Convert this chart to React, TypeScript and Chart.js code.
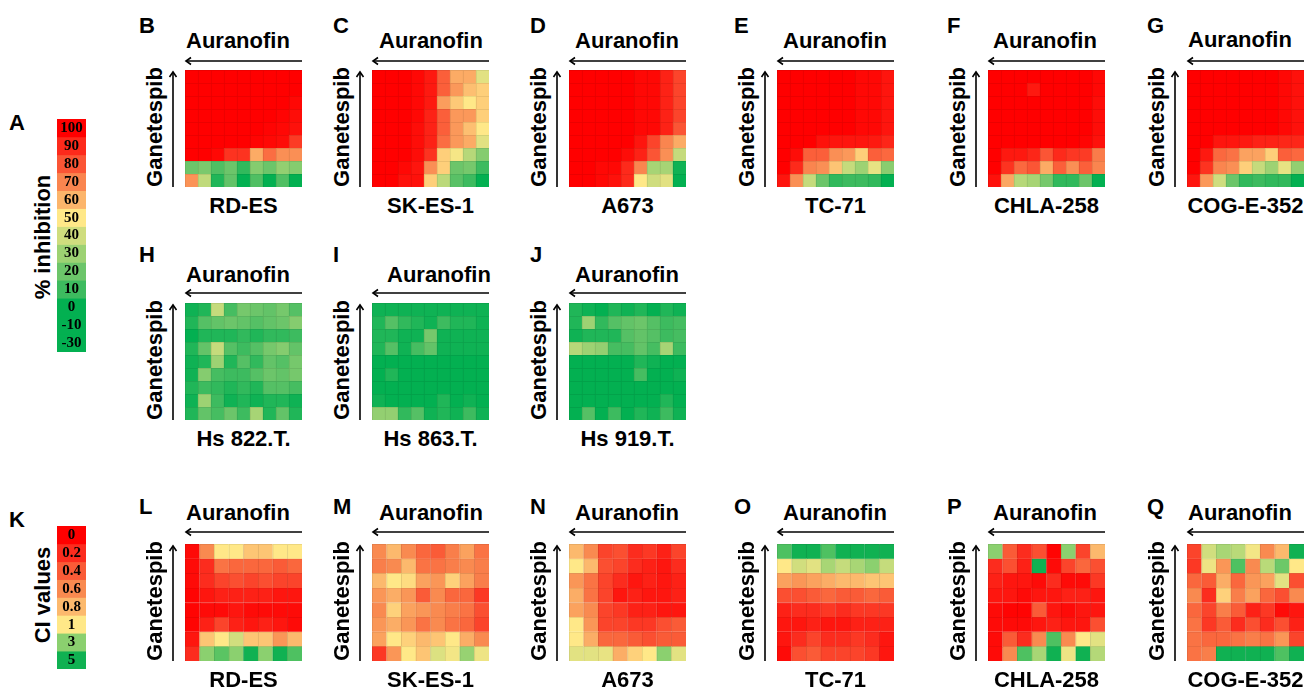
import React, { useEffect, useRef } from 'react';
import { Chart, registerables } from 'chart.js';
Chart.register(...registerables);

// ---------- DATA (% inhibition, rows top -> bottom, Auranofin columns left -> right) ----------
const rdesInh = [
  [100, 100, 100, 100, 100, 100, 100, 100, 100],
  [100, 100, 100, 100, 100, 100, 100, 100, 100],
  [100, 100, 100, 100, 100, 100, 100, 100, 98],
  [100, 100, 100, 100, 100, 100, 100, 99, 97],
  [100, 100, 100, 100, 100, 100, 99, 98, 96],
  [100, 100, 100, 100, 100, 99, 98, 97, 86],
  [100, 100, 98, 88, 88, 62, 75, 68, 68],
  [20, 23, 14, 20, 8, 25, 20, 28, 25],
  [67, 37, 5, 18, 0, 14, 0, 14, 0],
];
const skes1Inh = [
  [100, 100, 100, 98, 94, 78, 62, 62, 44],
  [100, 100, 100, 98, 94, 78, 66, 58, 55],
  [100, 100, 100, 98, 94, 65, 56, 50, 55],
  [100, 100, 100, 98, 92, 78, 66, 66, 55],
  [100, 100, 100, 97, 92, 78, 66, 58, 50],
  [100, 100, 100, 97, 92, 75, 66, 62, 44],
  [100, 100, 100, 97, 88, 55, 48, 35, 25],
  [100, 100, 98, 95, 68, 55, 20, 22, 10],
  [100, 100, 96, 96, 55, 36, 16, 10, 0],
];
const a673Inh = [
  [100, 100, 100, 100, 100, 98, 98, 92, 84],
  [100, 100, 100, 100, 100, 98, 98, 92, 84],
  [100, 100, 100, 100, 100, 98, 98, 92, 84],
  [100, 100, 100, 100, 100, 98, 98, 92, 84],
  [100, 100, 100, 100, 100, 98, 98, 92, 80],
  [100, 100, 100, 100, 100, 95, 84, 70, 62],
  [100, 100, 100, 100, 97, 92, 80, 68, 38],
  [100, 100, 98, 98, 90, 70, 32, 32, 2],
  [100, 100, 98, 96, 90, 50, 40, 44, 0],
];
const tc71Inh = [
  [100, 100, 100, 100, 100, 100, 98, 98, 95],
  [100, 100, 100, 100, 100, 100, 98, 98, 95],
  [100, 100, 100, 100, 100, 100, 98, 98, 95],
  [100, 100, 100, 100, 100, 100, 98, 98, 95],
  [100, 100, 100, 100, 100, 100, 98, 98, 95],
  [100, 100, 100, 96, 95, 95, 95, 94, 91],
  [100, 97, 78, 78, 68, 66, 55, 78, 76],
  [100, 90, 70, 68, 57, 38, 30, 45, 26],
  [95, 68, 38, 20, 8, 10, 10, 8, 0],
];
const chla258Inh = [
  [100, 100, 100, 100, 100, 100, 100, 100, 98],
  [100, 100, 100, 94, 100, 100, 100, 100, 98],
  [100, 100, 100, 100, 100, 100, 100, 100, 97],
  [100, 100, 100, 100, 100, 100, 100, 100, 97],
  [100, 100, 100, 100, 100, 100, 100, 100, 97],
  [100, 100, 100, 100, 100, 100, 100, 99, 96],
  [100, 94, 94, 91, 80, 90, 87, 86, 72],
  [100, 88, 76, 80, 62, 78, 68, 78, 70],
  [96, 63, 35, 32, 22, 8, 8, 20, 0],
];
const coge352Inh = [
  [100, 100, 100, 100, 100, 100, 100, 98, 96],
  [100, 100, 100, 100, 100, 100, 100, 98, 96],
  [100, 100, 100, 100, 100, 100, 100, 98, 96],
  [100, 100, 100, 100, 100, 100, 100, 98, 96],
  [100, 100, 100, 100, 100, 100, 100, 98, 96],
  [100, 100, 95, 95, 94, 92, 92, 91, 91],
  [100, 94, 76, 74, 64, 64, 55, 78, 76],
  [100, 88, 70, 68, 55, 38, 30, 45, 28],
  [95, 66, 40, 20, 8, 10, 8, 8, 0],
];
const hs822Inh = [
  [2, 5, 38, 12, 22, 20, 18, 22, 15],
  [5, 15, 18, 20, 18, 15, 18, 20, 25],
  [0, 5, 5, 5, 8, 5, 8, 8, 10],
  [5, 18, 38, 15, 10, 15, 22, 25, 18],
  [2, 5, 30, 5, 15, 8, 18, 15, 22],
  [2, 25, 12, 10, 10, 15, 20, 18, 22],
  [5, 10, 8, 5, 8, 5, 15, 15, 12],
  [2, 30, 10, 2, 5, 2, 5, 5, 2],
  [5, 18, 12, 20, 10, 32, 5, 18, 5],
];
const hs863Inh = [
  [2, 2, 2, 2, 2, 2, 2, 2, 2],
  [5, 15, 8, 5, 2, 10, 5, 5, 2],
  [5, 5, 2, 2, 22, 2, 2, 2, 2],
  [5, 15, 2, 12, 18, 2, 2, 2, 2],
  [0, 0, 0, 0, 0, 0, 0, 0, 0],
  [0, 5, 0, 0, 0, 0, 0, 0, 0],
  [0, 0, 0, 0, 0, 0, 0, 0, 0],
  [2, 0, 0, 0, 0, 5, 0, 2, 0],
  [28, 28, 8, 15, 2, 5, 2, 10, 2],
];
const hs919Inh = [
  [5, 2, 0, 5, 2, 5, 0, 5, 2],
  [5, 30, 8, 15, 18, 20, 15, 10, 12],
  [2, 5, 5, 5, 15, 18, 15, 10, 12],
  [35, 30, 28, 12, 12, 18, 12, 32, 10],
  [0, 0, 0, 0, 0, 5, 2, 0, 0],
  [0, 0, 0, 0, 0, 12, 0, 0, 2],
  [0, 0, 0, 0, 0, 0, 0, 0, 0],
  [0, 0, 0, 0, 0, 0, 0, 5, 0],
  [0, 15, 0, 10, 0, 5, 2, 10, 2],
];

// ---------- DATA (combination index, rows top -> bottom) ----------
const rdesCI = [
  [0.05, 0.6, 1.0, 1.0, 0.85, 0.85, 1.0, 1.0],
  [0.05, 0.2, 0.5, 0.45, 0.45, 0.45, 0.4, 0.45],
  [0.05, 0.2, 0.3, 0.35, 0.3, 0.35, 0.3, 0.3],
  [0.02, 0.1, 0.15, 0.15, 0.15, 0.15, 0.1, 0.1],
  [0.02, 0.05, 0.05, 0.1, 0.05, 0.05, 0.05, 0.05],
  [0.02, 0.15, 0.3, 0.15, 0.1, 0.15, 0.1, 0.05],
  [0.1, 0.85, 1.0, 1.8, 0.85, 0.85, 0.65, 0.8],
  [0.2, 3.0, 3.8, 3.0, 5.0, 3.0, 5.0, 4.0],
];
const skes1CI = [
  [0.6, 0.8, 0.6, 0.45, 0.4, 0.55, 0.7, 0.5],
  [0.55, 0.6, 0.8, 0.5, 0.5, 0.55, 0.6, 0.55],
  [0.8, 1.0, 0.95, 0.7, 0.65, 0.9, 0.7, 0.55],
  [0.65, 0.75, 0.65, 0.4, 0.6, 0.45, 0.45, 0.25],
  [0.6, 0.9, 0.7, 0.65, 0.6, 0.55, 0.5, 0.35],
  [0.65, 0.75, 0.65, 0.5, 0.6, 0.5, 0.45, 0.3],
  [0.7, 1.0, 0.9, 0.8, 0.85, 1.0, 0.75, 0.6],
  [0.25, 0.65, 1.0, 0.85, 1.6, 1.2, 2.8, 1.3],
];
const a673CI = [
  [0.8, 0.6, 0.3, 0.35, 0.2, 0.25, 0.15, 0.3],
  [1.0, 0.8, 0.35, 0.3, 0.2, 0.15, 0.1, 0.2],
  [0.65, 0.5, 0.3, 0.2, 0.1, 0.15, 0.1, 0.15],
  [0.75, 0.5, 0.3, 0.1, 0.15, 0.1, 0.1, 0.15],
  [0.7, 0.6, 0.3, 0.25, 0.15, 0.15, 0.1, 0.1],
  [1.0, 0.65, 0.3, 0.3, 0.25, 0.25, 0.35, 0.4],
  [1.0, 0.75, 0.45, 0.45, 0.4, 0.35, 0.4, 0.4],
  [1.5, 1.5, 1.4, 0.75, 0.9, 1.0, 3.0, 1.5],
];
const tc71CI = [
  [4.0, 5.0, 5.0, 4.0, 5.0, 5.0, 5.0, 5.0],
  [1.0, 1.8, 1.5, 2.5, 2.0, 2.5, 3.0, 2.0],
  [0.7, 0.65, 0.7, 0.75, 0.8, 0.8, 0.85, 0.85],
  [0.35, 0.35, 0.4, 0.45, 0.4, 0.4, 0.45, 0.4],
  [0.15, 0.2, 0.2, 0.25, 0.2, 0.25, 0.25, 0.25],
  [0.1, 0.1, 0.15, 0.1, 0.1, 0.15, 0.15, 0.15],
  [0.1, 0.2, 0.3, 0.2, 0.2, 0.25, 0.2, 0.1],
  [0.05, 0.35, 0.4, 0.3, 0.3, 0.3, 0.25, 0.1],
];
const chla258CI = [
  [3.0, 0.4, 0.2, 0.35, 0.02, 3.0, 0.3, 0.8],
  [0.2, 0.35, 0.15, 5.0, 0.05, 0.3, 0.45, 0.35],
  [0.15, 0.1, 0.1, 0.05, 0.2, 0.05, 0.05, 0.25],
  [0.1, 0.1, 0.05, 0.1, 0.1, 0.15, 0.15, 0.1],
  [0.05, 0.02, 0.02, 0.4, 0.1, 0.05, 0.1, 0.1],
  [0.05, 0.05, 0.05, 0.1, 0.15, 0.1, 0.1, 0.35],
  [0.05, 0.4, 0.2, 0.6, 4.0, 0.6, 1.0, 1.5],
  [0.05, 0.6, 4.0, 2.5, 5.0, 1.3, 5.0, 2.3],
];
const coge352CI = [
  [0.3, 1.8, 2.5, 2.2, 1.2, 0.6, 0.8, 5.0],
  [0.25, 1.3, 0.65, 4.0, 0.6, 2.2, 3.5, 1.0],
  [0.45, 0.4, 0.75, 0.45, 0.65, 0.7, 1.5, 0.35],
  [0.6, 0.2, 0.9, 0.55, 0.7, 0.45, 0.35, 0.6],
  [0.45, 0.3, 0.55, 0.4, 0.15, 0.25, 0.05, 0.1],
  [0.5, 0.25, 0.4, 0.2, 0.35, 0.2, 0.35, 0.15],
  [0.5, 0.45, 0.45, 0.5, 0.55, 0.5, 0.65, 0.3],
  [0.5, 0.55, 5.0, 5.0, 5.0, 5.0, 4.0, 5.0],
];

// ---------- legend ticks ----------
const inhLegendValues = [100, 90, 80, 70, 60, 50, 40, 30, 20, 10, 0, -10, -30];
const ciLegendLabels = ['0', '0.2', '0.4', '0.6', '0.8', '1', '3', '5'];
const ciLegendValues = [0, 0.2, 0.4, 0.6, 0.8, 1, 3, 5];

// ---------- colour scales ----------
const inhStops: [number, string][] = [
  [-30, '#03B051'], [0, '#03B051'], [10, '#3DBB5F'], [20, '#6CC56A'], [30, '#9DD273'],
  [40, '#CFDD7E'], [50, '#FFE888'], [60, '#FCB56B'], [70, '#FA854F'], [80, '#FB5535'],
  [90, '#FD2A1B'], [100, '#FF0000'],
];
const ciStops: [number, string][] = [
  [0, '#FF0000'], [0.2, '#FC2C1E'], [0.4, '#FA5B37'], [0.6, '#F98A50'], [0.8, '#FCB96D'],
  [1, '#FFE888'], [3, '#8BD06F'], [5, '#10B152'],
];

function hexToRgb(h: string): number[] {
  const n = parseInt(h.slice(1), 16);
  return [(n >> 16) & 255, (n >> 8) & 255, n & 255];
}
function scaleColor(stops: [number, string][], v: number, dark = 0): string {
  let c: number[];
  if (v <= stops[0][0]) c = hexToRgb(stops[0][1]);
  else if (v >= stops[stops.length - 1][0]) c = hexToRgb(stops[stops.length - 1][1]);
  else {
    let i = 0;
    while (v > stops[i + 1][0]) i++;
    const t = (v - stops[i][0]) / (stops[i + 1][0] - stops[i][0]);
    const a = hexToRgb(stops[i][1]);
    const b = hexToRgb(stops[i + 1][1]);
    c = a.map((x, k) => x + (b[k] - x) * t);
  }
  const f = 1 - dark;
  return `rgb(${Math.round(c[0] * f)},${Math.round(c[1] * f)},${Math.round(c[2] * f)})`;
}

// ---------- layout ----------
const GRID = 117;
const colLeft = [185, 372, 569, 777, 988, 1187];
const rowTop = [70, 303, 544];
const letterLeft = [139, 333, 530, 734, 947, 1147];
const letterCapTop = [18, 247, 499];
const auraCapTop = [33, 267, 505];
const auraLeft = [186, 379, 575, 783, 993, 1188];
const arrowY = [61, 293, 532];

type Panel = { letter: string; name: string; data: number[][]; stops: [number, string][]; r: number; c: number };
const panels: Panel[] = [
  { letter: 'B', name: 'RD-ES', data: rdesInh, stops: inhStops, r: 0, c: 0 },
  { letter: 'C', name: 'SK-ES-1', data: skes1Inh, stops: inhStops, r: 0, c: 1 },
  { letter: 'D', name: 'A673', data: a673Inh, stops: inhStops, r: 0, c: 2 },
  { letter: 'E', name: 'TC-71', data: tc71Inh, stops: inhStops, r: 0, c: 3 },
  { letter: 'F', name: 'CHLA-258', data: chla258Inh, stops: inhStops, r: 0, c: 4 },
  { letter: 'G', name: 'COG-E-352', data: coge352Inh, stops: inhStops, r: 0, c: 5 },
  { letter: 'H', name: 'Hs 822.T.', data: hs822Inh, stops: inhStops, r: 1, c: 0 },
  { letter: 'I', name: 'Hs 863.T.', data: hs863Inh, stops: inhStops, r: 1, c: 1 },
  { letter: 'J', name: 'Hs 919.T.', data: hs919Inh, stops: inhStops, r: 1, c: 2 },
  { letter: 'L', name: 'RD-ES', data: rdesCI, stops: ciStops, r: 2, c: 0 },
  { letter: 'M', name: 'SK-ES-1', data: skes1CI, stops: ciStops, r: 2, c: 1 },
  { letter: 'N', name: 'A673', data: a673CI, stops: ciStops, r: 2, c: 2 },
  { letter: 'O', name: 'TC-71', data: tc71CI, stops: ciStops, r: 2, c: 3 },
  { letter: 'P', name: 'CHLA-258', data: chla258CI, stops: ciStops, r: 2, c: 4 },
  { letter: 'Q', name: 'COG-E-352', data: coge352CI, stops: ciStops, r: 2, c: 5 },
];

const SANS = '"Liberation Sans", Arial, Helvetica, sans-serif';
const SERIF = '"Liberation Serif", "Times New Roman", serif';

function HeatMap({ data, stops, left, top, size, border = true }: { data: number[][]; stops: [number, string][]; left: number; top: number; size: [number, number]; border?: boolean }) {
  const ref = useRef<HTMLCanvasElement>(null);
  useEffect(() => {
    const labels = data[0].map((_, i) => String(i + 1));
    const chart = new Chart(ref.current as HTMLCanvasElement, {
      type: 'bar',
      data: {
        labels,
        datasets: data.map((row) => ({
          data: row.map(() => 1),
          backgroundColor: row.map((v) => scaleColor(stops, v)),
          borderColor: row.map((v) => scaleColor(stops, v, 0.1)),
          borderWidth: border ? { top: 1, left: 1, right: 0, bottom: 0 } : 0,
          borderSkipped: false,
          categoryPercentage: 1,
          barPercentage: 1,
        })),
      },
      options: {
        responsive: false,
        maintainAspectRatio: false,
        animation: false,
        events: [],
        layout: { padding: 0 },
        plugins: { legend: { display: false }, tooltip: { enabled: false } },
        scales: {
          x: { stacked: true, display: false, offset: true },
          y: { stacked: true, display: false, min: 0, max: data.length, reverse: true },
        },
      },
    } as any);
    return () => chart.destroy();
  }, [data, stops, border]);
  return (
    <canvas
      ref={ref}
      width={size[0]}
      height={size[1]}
      style={{ position: 'absolute', left, top, width: size[0], height: size[1] }}
    />
  );
}

function Txt({ x, capTop, children, size = 22, center = false }: { x: number; capTop: number; children: React.ReactNode; size?: number; center?: boolean }) {
  return (
    <div
      style={{
        position: 'absolute',
        left: x,
        top: capTop - 3,
        font: `bold ${size}px ${SANS}`,
        lineHeight: `${size}px`,
        whiteSpace: 'nowrap',
        color: '#000',
        transform: center ? 'translateX(-50%)' : undefined,
      }}
    >
      {children}
    </div>
  );
}

function VTxt({ cx, cy, children }: { cx: number; cy: number; children: React.ReactNode }) {
  return (
    <div
      style={{
        position: 'absolute',
        left: cx,
        top: cy,
        font: `bold 22px ${SANS}`,
        lineHeight: '22px',
        whiteSpace: 'nowrap',
        color: '#000',
        transform: 'translate(-50%, -50%) rotate(-90deg)',
      }}
    >
      {children}
    </div>
  );
}

function LegendLabels({ left, top, width, cell, labels }: { left: number; top: number; width: number; cell: number; labels: string[] }) {
  return (
    <>
      {labels.map((l, i) => (
        <div
          key={i}
          style={{
            position: 'absolute',
            left,
            top: top + i * cell,
            width,
            height: cell,
            font: `bold 15px ${SERIF}`,
            lineHeight: `${cell}px`,
            textAlign: 'center',
            color: '#000',
          }}
        >
          {l}
        </div>
      ))}
    </>
  );
}

export default function App() {
  const LEG_CELL = 17.9;
  const inhLegendData = inhLegendValues.map((v) => [v]);
  const ciLegendData = ciLegendValues.map((v) => [v]);
  return (
    <div style={{ position: 'fixed', left: 0, top: 0, width: 1310, height: 690, background: '#fff', overflow: 'hidden' }}>
      {/* Legend A */}
      <Txt x={9} capTop={115}>A</Txt>
      <VTxt cx={43} cy={237}>% inhibition</VTxt>
      <HeatMap data={inhLegendData} stops={inhStops} left={57} top={119} size={[29, Math.round(LEG_CELL * 13)]} border={false} />
      <LegendLabels left={57} top={119} width={29} cell={LEG_CELL} labels={inhLegendValues.map(String)} />

      {/* Legend K */}
      <Txt x={9} capTop={512}>K</Txt>
      <VTxt cx={43} cy={595}>CI values</VTxt>
      <HeatMap data={ciLegendData} stops={ciStops} left={57} top={526} size={[29, Math.round(LEG_CELL * 8)]} border={false} />
      <LegendLabels left={57} top={526} width={29} cell={LEG_CELL} labels={ciLegendLabels} />

      {panels.map((p, i) => {
        const gl = colLeft[p.c];
        const gt = rowTop[p.r];
        const aLeft = p.r === 1 && p.c === 1 ? 387 : auraLeft[p.c];
        const aTop = p.r === 0 && p.c === 5 ? auraCapTop[p.r] - 1 : auraCapTop[p.r];
        return (
          <React.Fragment key={i}>
            <Txt x={letterLeft[p.c]} capTop={letterCapTop[p.r]}>{p.letter}</Txt>
            <Txt x={aLeft} capTop={aTop}>Auranofin</Txt>
            <VTxt cx={gl - 30} cy={gt + 57}>Ganetespib</VTxt>
            <HeatMap data={p.data} stops={p.stops} left={gl} top={gt} size={[GRID, GRID]} />
            <Txt x={gl + GRID / 2} capTop={gt + GRID + 11} center>{p.name}</Txt>
          </React.Fragment>
        );
      })}

      <svg width={1310} height={690} style={{ position: 'absolute', left: 0, top: 0, pointerEvents: 'none' }}>
        {panels.map((p, i) => {
          const gl = colLeft[p.c];
          const gt = rowTop[p.r];
          const ay = arrowY[p.r];
          const vx = gl - 12;
          return (
            <g key={i} stroke="#000" strokeWidth={1.6} fill="none">
              <line x1={gl + 1} y1={ay} x2={gl + GRID} y2={ay} />
              <polyline points={`${gl + 6},${ay - 3.5} ${gl + 1},${ay} ${gl + 6},${ay + 3.5}`} />
              <line x1={vx} y1={gt + GRID} x2={vx} y2={gt + 2} />
              <polyline points={`${vx - 3.5},${gt + 7} ${vx},${gt + 2} ${vx + 3.5},${gt + 7}`} />
            </g>
          );
        })}
      </svg>
    </div>
  );
}
